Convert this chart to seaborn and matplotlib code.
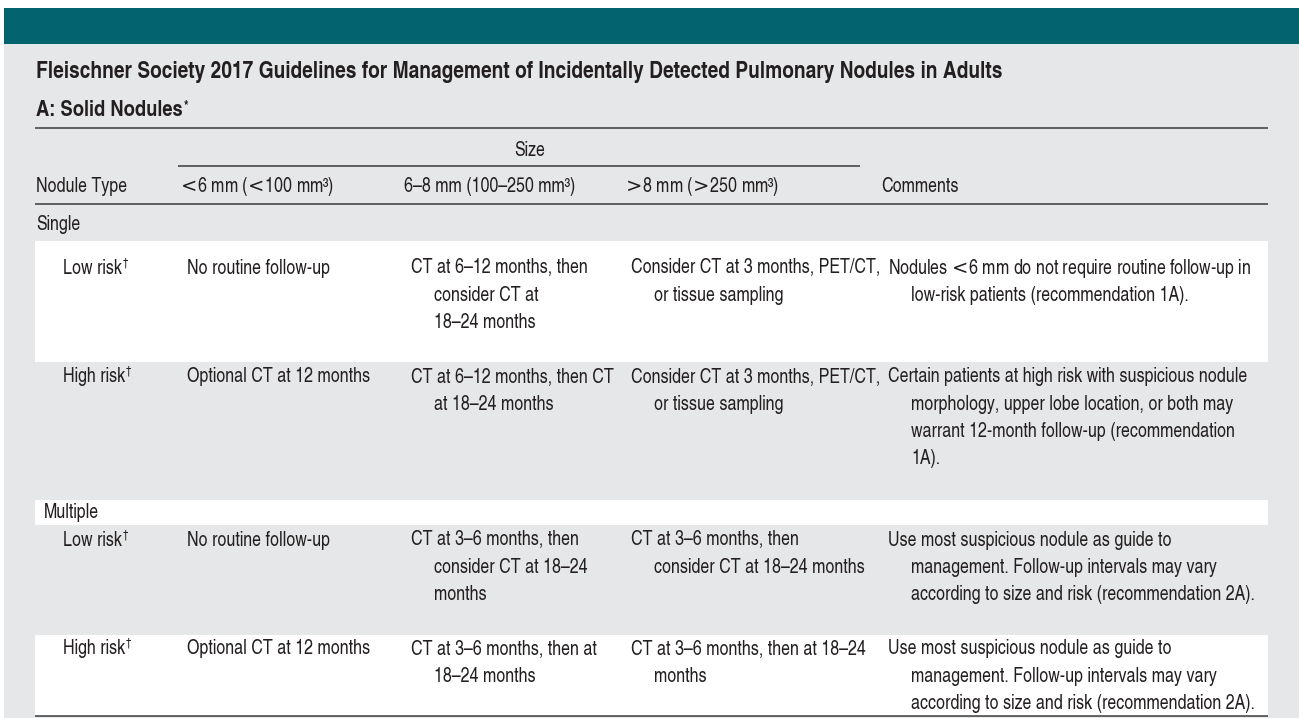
import numpy as np
import pandas as pd
import seaborn as sns
import matplotlib
matplotlib.use("Agg")
import matplotlib.pyplot as plt
from matplotlib import font_manager as fm
from matplotlib.patches import Rectangle

# ---------------- data ----------------
title = "Fleischner Society 2017 Guidelines for Management of Incidentally Detected Pulmonary Nodules in Adults"
subtitle = "A: Solid Nodules"
subtitle_mark = "*"
span_header = "Size"
col_headers = ["Nodule Type", "<6 mm (<100 mm³)", "6–8 mm (100–250 mm³)",
               ">8 mm (>250 mm³)", "Comments"]
groups = ["Single", "Multiple"]
risk_labels = ["Low risk", "High risk", "Low risk", "High risk"]
risk_mark = "†"
col_lt6 = ["No routine follow-up", "Optional CT at 12 months",
           "No routine follow-up", "Optional CT at 12 months"]
col_6to8 = [["CT at 6–12 months, then", "consider CT at", "18–24 months"],
            ["CT at 6–12 months, then CT", "at 18–24 months"],
            ["CT at 3–6 months, then", "consider CT at 18–24", "months"],
            ["CT at 3–6 months, then at", "18–24 months"]]
col_gt8 = [["Consider CT at 3 months, PET/CT,", "or tissue sampling"],
           ["Consider CT at 3 months, PET/CT,", "or tissue sampling"],
           ["CT at 3–6 months, then", "consider CT at 18–24 months"],
           ["CT at 3–6 months, then at 18–24", "months"]]
comments = [["Nodules <6 mm do not require routine follow-up in",
             "low-risk patients (recommendation 1A)."],
            ["Certain patients at high risk with suspicious nodule",
             "morphology, upper lobe location, or both may",
             "warrant 12-month follow-up (recommendation",
             "1A)."],
            ["Use most suspicious nodule as guide to",
             "management. Follow-up intervals may vary",
             "according to size and risk (recommendation 2A)."],
            ["Use most suspicious nodule as guide to",
             "management. Follow-up intervals may vary",
             "according to size and risk (recommendation 2A)."]]

# ---------------- style ----------------
sns.set_theme(style="white")
names = {f.name for f in fm.fontManager.ttflist}
family = next(c for c in ["TeX Gyre Heros Cn", "Roboto Condensed", "DejaVu Sans"]
              if c in names)
plt.rcParams['font.family'] = [family, 'DejaVu Sans']
plt.rcParams['mathtext.fontset'] = 'dejavusans'
plt.rcParams['mathtext.default'] = 'rm'

TEAL = "#03636e"
GRAY = "#e6e7e8"
INK = "#231f20"
RULE = "#3c3c3c"

W, H = 1299, 718
fig = plt.figure(figsize=(W / 100, H / 100), dpi=100)
ax = fig.add_axes([0, 0, 1, 1])
ax.set_xlim(0, W)
ax.set_ylim(H, 0)
ax.axis("off")
fig.patch.set_facecolor("white")
renderer = fig.canvas.get_renderer()


def width_px(s, size, weight="normal"):
    t = ax.text(0, 0, s, fontsize=size, fontweight=weight)
    bb = t.get_window_extent(renderer)
    t.remove()
    return bb.width


fitA = 12.0 * 369 / width_px(comments[1][0], 12.0)
fitB = 12.0 * 241 / width_px(col_gt8[0][0], 12.0)
body = 0.4 * fitA + 0.6 * fitB
tsize = 12.0 * 972 / width_px(title, 12.0, "bold")
ssize = tsize * 0.96

ax.add_patch(Rectangle((4, 8), W - 4, 36, color=TEAL, lw=0))
ax.add_patch(Rectangle((4, 44), W - 4, H - 44, color=GRAY, lw=0))

X0, X1 = 35, 1268
white_rows = [(241, 362), (500, 525), (635, 716)]
for (a, b) in white_rows:
    ax.add_patch(Rectangle((X0, a), X1 - X0, b - a, color="white", lw=0))


def fmt(s):
    return s.replace("<", r"$\!<\!$").replace(">", r"$\!>\!$")


def txt(x, y, s, size=None, weight="normal", **kw):
    return ax.text(x, y, fmt(s), fontsize=size or body, fontweight=weight,
                   color=INK, va="center", ha=kw.pop("ha", "left"), **kw)


def sup(t, mark, size, dy=-5):
    bb = t.get_window_extent(renderer)
    xr = ax.transData.inverted().transform((bb.x1, bb.y0))[0]
    y = t.get_position()[1]
    ax.text(xr + 0.8, y + dy, mark, fontsize=size * 0.62, color=INK,
            va="center", ha="left", fontweight=t.get_fontweight())


# title
txt(36, 72, title, size=tsize, weight="bold")
t = txt(36, 111, subtitle, size=ssize, weight="bold")
sup(t, subtitle_mark, ssize, dy=-5)

lw = 1.1
ax.plot([X0, X1], [128, 128], color=RULE, lw=lw, solid_capstyle="butt")
txt(530, 150, span_header, ha="center")
ax.plot([178, 860], [166, 166], color=RULE, lw=lw, solid_capstyle="butt")
col_x = [36, 180, 404, 625, 881]
for x, h in zip(col_x, col_headers):
    txt(x, 187, h)
ax.plot([X0, X1], [204, 204], color=RULE, lw=lw, solid_capstyle="butt")
ax.plot([X0, X1], [716, 716], color=RULE, lw=lw, solid_capstyle="butt")

txt(36, 225, groups[0])
txt(44, 513, groups[1])

first_y = [268, 377, 540, 649]
LS = 27.3
cx = [63, 187, 411, 631, 888]
IND = 23
for i in range(4):
    y0 = first_y[i]
    t = txt(cx[0], y0, risk_labels[i])
    sup(t, risk_mark, body, dy=-5)
    txt(cx[1], y0, col_lt6[i])
    for col, x in ((col_6to8, cx[2]), (col_gt8, cx[3]), (comments, cx[4])):
        for k, line in enumerate(col[i]):
            txt(x + (IND if k else 0), y0 + k * LS, line)

fig.savefig("out.png", dpi=100, facecolor="white")
